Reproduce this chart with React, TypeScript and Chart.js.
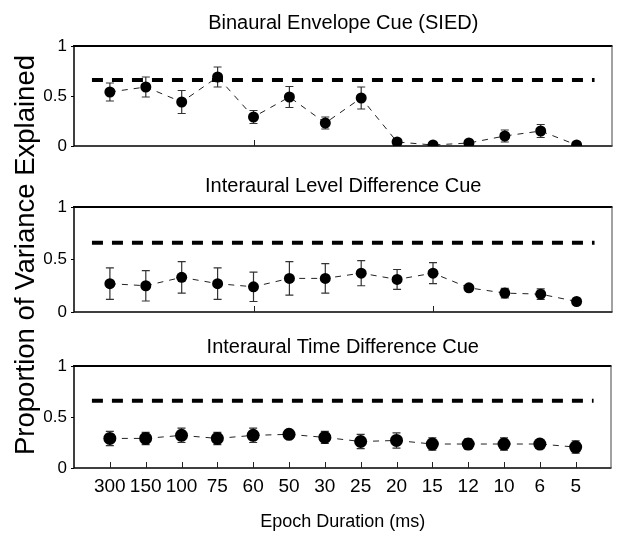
import React, { useEffect, useRef } from "react";
import { Chart, registerables } from "chart.js";

Chart.register(...registerables);

// ---------- data ----------
const categories = ["300", "150", "100", "75", "60", "50", "30", "25", "20", "15", "12", "10", "6", "5"];
const siedValues = [0.54, 0.59, 0.44, 0.69, 0.29, 0.49, 0.23, 0.48, 0.04, 0.01, 0.03, 0.1, 0.15, 0.01];
const siedErrors = [0.09, 0.1, 0.115, 0.1, 0.065, 0.105, 0.06, 0.11, 0.035, 0.01, 0.015, 0.06, 0.065, 0.005];
const ildValues = [0.27, 0.25, 0.33, 0.27, 0.24, 0.32, 0.32, 0.37, 0.31, 0.37, 0.23, 0.18, 0.17, 0.1];
const ildErrors = [0.15, 0.145, 0.15, 0.15, 0.14, 0.16, 0.14, 0.12, 0.095, 0.1, 0.03, 0.045, 0.05, 0.01];
const itdValues = [0.29, 0.29, 0.32, 0.29, 0.32, 0.33, 0.3, 0.26, 0.27, 0.235, 0.235, 0.235, 0.235, 0.205];
const itdErrors = [0.07, 0.06, 0.07, 0.06, 0.07, 0.04, 0.06, 0.07, 0.075, 0.06, 0.05, 0.06, 0.04, 0.06];
const ceilingValue = 0.66;
const yTickValues = [0, 0.5, 1];
const innerTickIndices = [4, 9];
const panelTitles = [
  "Binaural Envelope Cue (SIED)",
  "Interaural Level Difference Cue",
  "Interaural Time Difference Cue",
];
const xAxisTitle = "Epoch Duration (ms)";
const yAxisTitle = "Proportion of Variance Explained";

// ---------- layout ----------
const W = 618;
const H = 536;
const FONT = "'Liberation Sans', Arial, Helvetica, sans-serif";

type PanelCfg = {
  title: string;
  values: number[];
  errors: number[];
  top: number;
  bottom: number;
  titleBaseline: number;
  showX: boolean;
  radius: number;
  yLabel: boolean;
  ticksAt: number[];
};

const panels: PanelCfg[] = [
  { title: panelTitles[0], values: siedValues, errors: siedErrors, top: 46, bottom: 146, titleBaseline: 29, showX: false, radius: 5.5, yLabel: false, ticksAt: innerTickIndices },
  { title: panelTitles[1], values: ildValues, errors: ildErrors, top: 207, bottom: 312, titleBaseline: 192, showX: false, radius: 5.5, yLabel: true, ticksAt: innerTickIndices },
  { title: panelTitles[2], values: itdValues, errors: itdErrors, top: 366, bottom: 468, titleBaseline: 353, showX: true, radius: 6.5, yLabel: false, ticksAt: categories.map((_, i) => i) },
];

function makePlugin(p: PanelCfg) {
  return {
    id: "panelDecor",
    beforeDatasetsDraw(chart: any) {
      const { ctx, chartArea } = chart;
      const xs = chart.scales.x;
      const ys = chart.scales.y;
      const { left, right, top, bottom } = chartArea;
      ctx.save();
      // frame
      ctx.strokeStyle = "#000";
      ctx.lineWidth = 2;
      ctx.beginPath();
      ctx.moveTo(left - 1, top);
      ctx.lineTo(right, top);
      ctx.stroke();
      ctx.lineWidth = 1.5;
      ctx.beginPath();
      ctx.moveTo(left, top);
      ctx.lineTo(left, bottom);
      ctx.lineTo(right, bottom);
      ctx.stroke();
      ctx.strokeStyle = "#444";
      ctx.lineWidth = 1;
      ctx.beginPath();
      ctx.moveTo(right - 0.5, top);
      ctx.lineTo(right - 0.5, bottom);
      ctx.stroke();
      // inner x ticks
      ctx.strokeStyle = "#222";
      ctx.lineWidth = 1;
      p.ticksAt.forEach((i) => {
        const x = Math.round(xs.getPixelForValue(i)) + 0.5;
        ctx.beginPath();
        ctx.moveTo(x, bottom);
        ctx.lineTo(x, bottom - 6);
        ctx.stroke();
      });
      // error bars
      ctx.strokeStyle = "#333";
      ctx.lineWidth = 1.2;
      p.values.forEach((v, i) => {
        const e = p.errors[i];
        const x = xs.getPixelForValue(i);
        const y1 = ys.getPixelForValue(v + e);
        const y2 = ys.getPixelForValue(v - e);
        ctx.beginPath();
        ctx.moveTo(x, y1);
        ctx.lineTo(x, y2);
        ctx.moveTo(x - 4, y1);
        ctx.lineTo(x + 4, y1);
        ctx.moveTo(x - 4, y2);
        ctx.lineTo(x + 4, y2);
        ctx.stroke();
      });
      ctx.restore();
    },
    afterDraw(chart: any) {
      const { ctx, chartArea } = chart;
      ctx.save();
      ctx.fillStyle = "#000";
      ctx.font = `20px ${FONT}`;
      ctx.textAlign = "center";
      ctx.textBaseline = "alphabetic";
      ctx.fillText(p.title, (chartArea.left + chartArea.right) / 2, p.titleBaseline);
      if (p.yLabel) {
        ctx.translate(34, 255);
        ctx.rotate(-Math.PI / 2);
        ctx.font = `27.5px ${FONT}`;
        ctx.fillText(yAxisTitle, 0, 0);
      }
      ctx.restore();
    },
  };
}

function PanelChart({ p }: { p: PanelCfg }) {
  const ref = useRef<HTMLCanvasElement | null>(null);
  useEffect(() => {
    if (!ref.current) return;
    const xHeight = H - p.bottom;
    const chart = new Chart(ref.current, {
      type: "line",
      data: {
        datasets: [
          {
            data: [
              { x: -0.5, y: ceilingValue },
              { x: 13.5, y: ceilingValue },
            ],
            borderColor: "#000",
            borderWidth: 4,
            borderDash: [11, 9],
            pointRadius: 0,
            fill: false,
          },
          {
            data: p.values.map((v, i) => ({ x: i, y: v })),
            borderColor: "#222",
            borderWidth: 1,
            borderDash: [6, 6],
            pointRadius: p.radius,
            pointBackgroundColor: "#000",
            pointBorderColor: "#000",
            pointBorderWidth: 0,
            fill: false,
          },
        ],
      } as any,
      options: {
        animation: false,
        responsive: false,
        devicePixelRatio: 1,
        events: [],
        layout: {
          padding: { top: p.top, bottom: 0, left: 0, right: 1 },
        },
        plugins: {
          legend: { display: false },
          tooltip: { enabled: false },
          title: { display: false },
        },
        scales: {
          x: {
            type: "linear",
            min: -1,
            max: 14,
            display: p.showX,
            afterBuildTicks: (s: any) => {
              s.ticks = categories.map((_, i) => ({ value: i }));
            },
            afterFit: (s: any) => {
              s.height = xHeight;
            },
            grid: { display: false, drawTicks: false },
            border: { display: false },
            ticks: {
              callback: (v: any) => categories[v] ?? "",
              font: { family: FONT, size: 19 },
              color: "#000",
              padding: 7,
              maxRotation: 0,
              autoSkip: false,
            },
            title: {
              display: true,
              text: xAxisTitle,
              font: { family: FONT, size: 18 },
              color: "#000",
              padding: { top: 0, bottom: 3 },
            },
          },
          y: {
            min: 0,
            max: 1,
            afterBuildTicks: (s: any) => {
              s.ticks = yTickValues.map((v) => ({ value: v }));
            },
            afterFit: (s: any) => {
              s.width = 74;
            },
            grid: { drawOnChartArea: false, drawTicks: true, tickLength: 3, color: "#000" },
            border: { display: false },
            ticks: {
              font: { family: FONT, size: 17 },
              color: "#000",
              padding: 4,
              callback: (v: any) => String(v),
            },
          },
        },
      } as any,
      plugins: [makePlugin(p)],
    });
    return () => chart.destroy();
  }, [p]);
  return (
    <canvas
      ref={ref}
      width={W}
      height={H}
      style={{ position: "absolute", left: 0, top: 0, width: W, height: H }}
    />
  );
}

export default function App() {
  return (
    <div
      style={{
        position: "fixed",
        left: 0,
        top: 0,
        width: W,
        height: H,
        background: "#fff",
        overflow: "hidden",
      }}
    >
      {panels.map((p, i) => (
        <PanelChart key={i} p={p} />
      ))}
    </div>
  );
}
